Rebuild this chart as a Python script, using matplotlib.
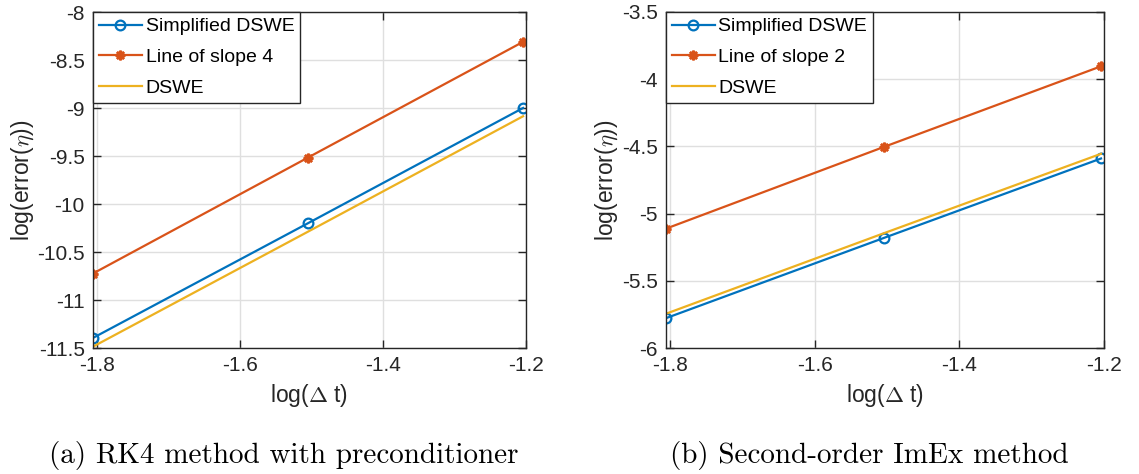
import numpy as np
import matplotlib
matplotlib.use("Agg")
import matplotlib.pyplot as plt

plt.rcParams['font.family'] = ['Liberation Sans', 'DejaVu Sans']
plt.rcParams['mathtext.fontset'] = 'cm'

# log10 of the time steps 1/64, 1/32, 1/16
log_dt = [np.log10(1 / 64), np.log10(1 / 32), np.log10(1 / 16)]

# (a) RK4 with preconditioner
rk4_simplified = [-11.395, -10.20, -9.00]
rk4_slope4 = [-10.724, -9.516, -8.311]
rk4_dswe = [-11.486, -10.288, -9.086]

# (b) second-order ImEx
imex_simplified = [-5.778, -5.182, -4.590]
imex_slope2 = [-5.112, -4.505, -3.904]
imex_dswe = [-5.745, -5.147, -4.555]

xticks = [-1.8, -1.6, -1.4, -1.2]
yticks_a = [-11.5, -11, -10.5, -10, -9.5, -9, -8.5, -8]
yticks_b = [-6, -5.5, -5, -4.5, -4, -3.5]

BLUE = '#0072BD'
ORANGE = '#D95319'
YELLOW = '#EDB120'
AXC = '#262626'


def draw(ax, simp, ref, dswe, ref_label, yticks):
    ax.plot(log_dt, simp, color=BLUE, lw=1.6, marker='o', ms=7,
            mfc='none', mew=1.6, label='Simplified DSWE')
    ax.plot(log_dt, ref, color=ORANGE, lw=1.6, marker=(8, 2, 0), ms=7,
            mew=1.8, label=ref_label)
    ax.plot(log_dt, dswe, color=YELLOW, lw=1.6, label='DSWE')
    ax.set_xlim(log_dt[0], log_dt[-1])
    ax.set_ylim(yticks[0], yticks[-1])
    ax.set_xticks(xticks, [f'{t:g}' for t in xticks])
    ax.set_yticks(yticks, [f'{t:g}' for t in yticks])
    ax.grid(True, color='#dfdfdf', lw=1.0)
    ax.set_axisbelow(True)
    for s in ax.spines.values():
        s.set_color(AXC)
        s.set_linewidth(1.0)
    ax.tick_params(direction='in', length=6, width=1.0, colors=AXC,
                   labelsize=15, top=True, right=True, pad=6)
    ax.set_xlabel(r'log($\Delta$ t)', fontsize=16.5, color=AXC, labelpad=5)
    ax.set_ylabel(r'log(error($\eta$))', fontsize=16.5, color=AXC, labelpad=1)
    leg = ax.legend(loc='upper left', fontsize=14, fancybox=False,
                    borderaxespad=0, framealpha=1, edgecolor=AXC,
                    handlelength=2.2, handletextpad=0.2, borderpad=0.3,
                    labelspacing=0.68)
    leg.get_frame().set_linewidth(1.0)


fig = plt.figure(figsize=(11.39, 4.74), dpi=100)
ax1 = fig.add_axes([93 / 1139, 1 - 348 / 474, 433 / 1139, 336 / 474])
ax2 = fig.add_axes([666 / 1139, 1 - 348 / 474, 438 / 1139, 336 / 474])

draw(ax1, rk4_simplified, rk4_slope4, rk4_dswe, 'Line of slope 4', yticks_a)
draw(ax2, imex_simplified, imex_slope2, imex_dswe, 'Line of slope 2', yticks_b)

fig.text(284 / 1139, 1 - 455 / 474, '(a) RK4 method with preconditioner',
         family='cmr10', fontsize=21, ha='center', va='center')
fig.text(869 / 1139, 1 - 455 / 474, '(b) Second-order ImEx method',
         family='cmr10', fontsize=21, ha='center', va='center')

fig.savefig('out.png', dpi=100)
